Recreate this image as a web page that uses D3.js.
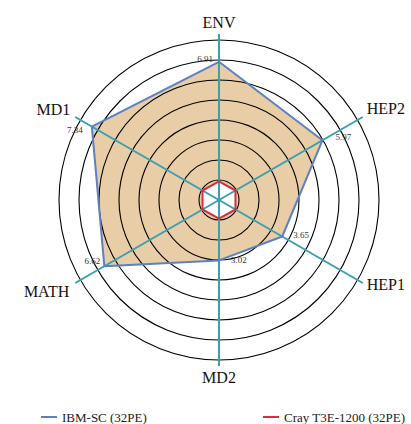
<!DOCTYPE html>
<html>
<head>
<meta charset="utf-8">
<script src="https://cdn.jsdelivr.net/npm/d3@7"></script>
<style>
  html, body { margin: 0; padding: 0; background: #fff; }
  svg { display: block; }
</style>
</head>
<body>
<svg id="chart" width="411" height="424"></svg>
<script>
// Benchmark axes, clockwise from the top
const axes = ["ENV", "HEP2", "HEP1", "MD2", "MATH", "MD1"];
// Relative performance per benchmark
const ibmValues = [6.91, 5.97, 3.65, 3.02, 6.62, 7.34];
const crayValues = [0.93, 0.95, 0.95, 0.93, 0.95, 0.95];
const seriesNames = ["IBM-SC (32PE)", "Cray T3E-1200 (32PE)"];
const ringLevels = [1, 2, 3, 4, 5, 6, 7, 8];

const svg = d3.select("#chart");
const cx = 219, cy = 200;
const maxValue = 8;
const r = d3.scaleLinear().domain([0, maxValue]).range([0, 160]);
const axisExtent = 8.3;
const angle = d3.scaleLinear().domain([0, axes.length]).range([0, 2 * Math.PI]);
const serif = "'Liberation Serif', 'Times New Roman', Times, serif";

const pt = (i, v) => {
  const a = angle(i);
  return [cx + r(v) * Math.sin(a), cy - r(v) * Math.cos(a)];
};

const g = svg.append("g");
const radial = d3.lineRadial()
  .angle((d, i) => angle(i))
  .radius(d => r(d))
  .curve(d3.curveLinearClosed);

// filled areas first so rings and spokes sit on top
g.append("path").attr("transform", `translate(${cx},${cy})`)
  .attr("d", radial(ibmValues)).attr("fill", "#e8cda6").attr("stroke", "none");
g.append("path").attr("transform", `translate(${cx},${cy})`)
  .attr("d", radial(crayValues)).attr("fill", "#ffffff").attr("stroke", "none");

// grid rings
g.selectAll("circle.ring").data(ringLevels).join("circle")
  .attr("class", "ring")
  .attr("cx", cx).attr("cy", cy).attr("r", d => r(d))
  .attr("fill", "none").attr("stroke", "#000").attr("stroke-width", 1.1);

// spokes
g.selectAll("line.spoke").data(axes).join("line")
  .attr("class", "spoke")
  .attr("x1", cx).attr("y1", cy)
  .attr("x2", (d, i) => pt(i, axisExtent)[0])
  .attr("y2", (d, i) => pt(i, axisExtent)[1])
  .attr("stroke", "#3a9fb1").attr("stroke-width", 2);

// series outlines
g.append("path").attr("transform", `translate(${cx},${cy})`)
  .attr("d", radial(ibmValues)).attr("fill", "none")
  .attr("stroke", "#5b80c3").attr("stroke-width", 2).attr("stroke-linejoin", "round");
g.append("path").attr("transform", `translate(${cx},${cy})`)
  .attr("d", radial(crayValues)).attr("fill", "none")
  .attr("stroke", "#d7303c").attr("stroke-width", 2).attr("stroke-linejoin", "round");

// axis names
const nameStyle = [
  { anchor: "middle", dx: 0, dy: -6 },
  { anchor: "start", dx: 4, dy: -3 },
  { anchor: "start", dx: 4, dy: 7 },
  { anchor: "middle", dx: 0, dy: 17 },
  { anchor: "end", dx: -6, dy: 14 },
  { anchor: "end", dx: -5, dy: -2 }
];
g.selectAll("text.axis-name").data(axes).join("text")
  .attr("class", "axis-name")
  .attr("x", (d, i) => pt(i, axisExtent)[0] + nameStyle[i].dx)
  .attr("y", (d, i) => pt(i, axisExtent)[1] + nameStyle[i].dy)
  .attr("text-anchor", (d, i) => nameStyle[i].anchor)
  .attr("font-family", serif)
  .attr("font-size", 16).attr("fill", "#111")
  .text(d => d);

// value labels for the IBM series
const valueStyle = [
  { anchor: "end", dx: -6, dy: 0 },
  { anchor: "start", dx: 13, dy: 0 },
  { anchor: "start", dx: 11, dy: 1 },
  { anchor: "start", dx: 12, dy: 3 },
  { anchor: "end", dx: -4, dy: -2 },
  { anchor: "end", dx: -9, dy: 6 }
];
g.selectAll("text.value").data(ibmValues).join("text")
  .attr("class", "value")
  .attr("x", (d, i) => pt(i, d)[0] + valueStyle[i].dx)
  .attr("y", (d, i) => pt(i, d)[1] + valueStyle[i].dy)
  .attr("text-anchor", (d, i) => valueStyle[i].anchor)
  .attr("font-family", serif)
  .attr("font-size", 9).attr("fill", "#333")
  .text(d => d.toFixed(2));

// legend
const legendColors = ["#5b80c3", "#d7303c"];
const legendX = d3.scalePoint().domain(seriesNames).range([41, 263]);
const lg = svg.selectAll("g.legend").data(seriesNames).join("g")
  .attr("class", "legend")
  .attr("transform", d => `translate(${legendX(d)},417)`);
lg.append("line").attr("x1", 0).attr("x2", 16).attr("y1", 0).attr("y2", 0)
  .attr("stroke", (d, i) => legendColors[i]).attr("stroke-width", 2);
lg.append("text").attr("x", 21).attr("y", 5)
  .attr("font-family", serif)
  .attr("font-size", 13).attr("fill", "#222")
  .text(d => d);
</script>
</body>
</html>
